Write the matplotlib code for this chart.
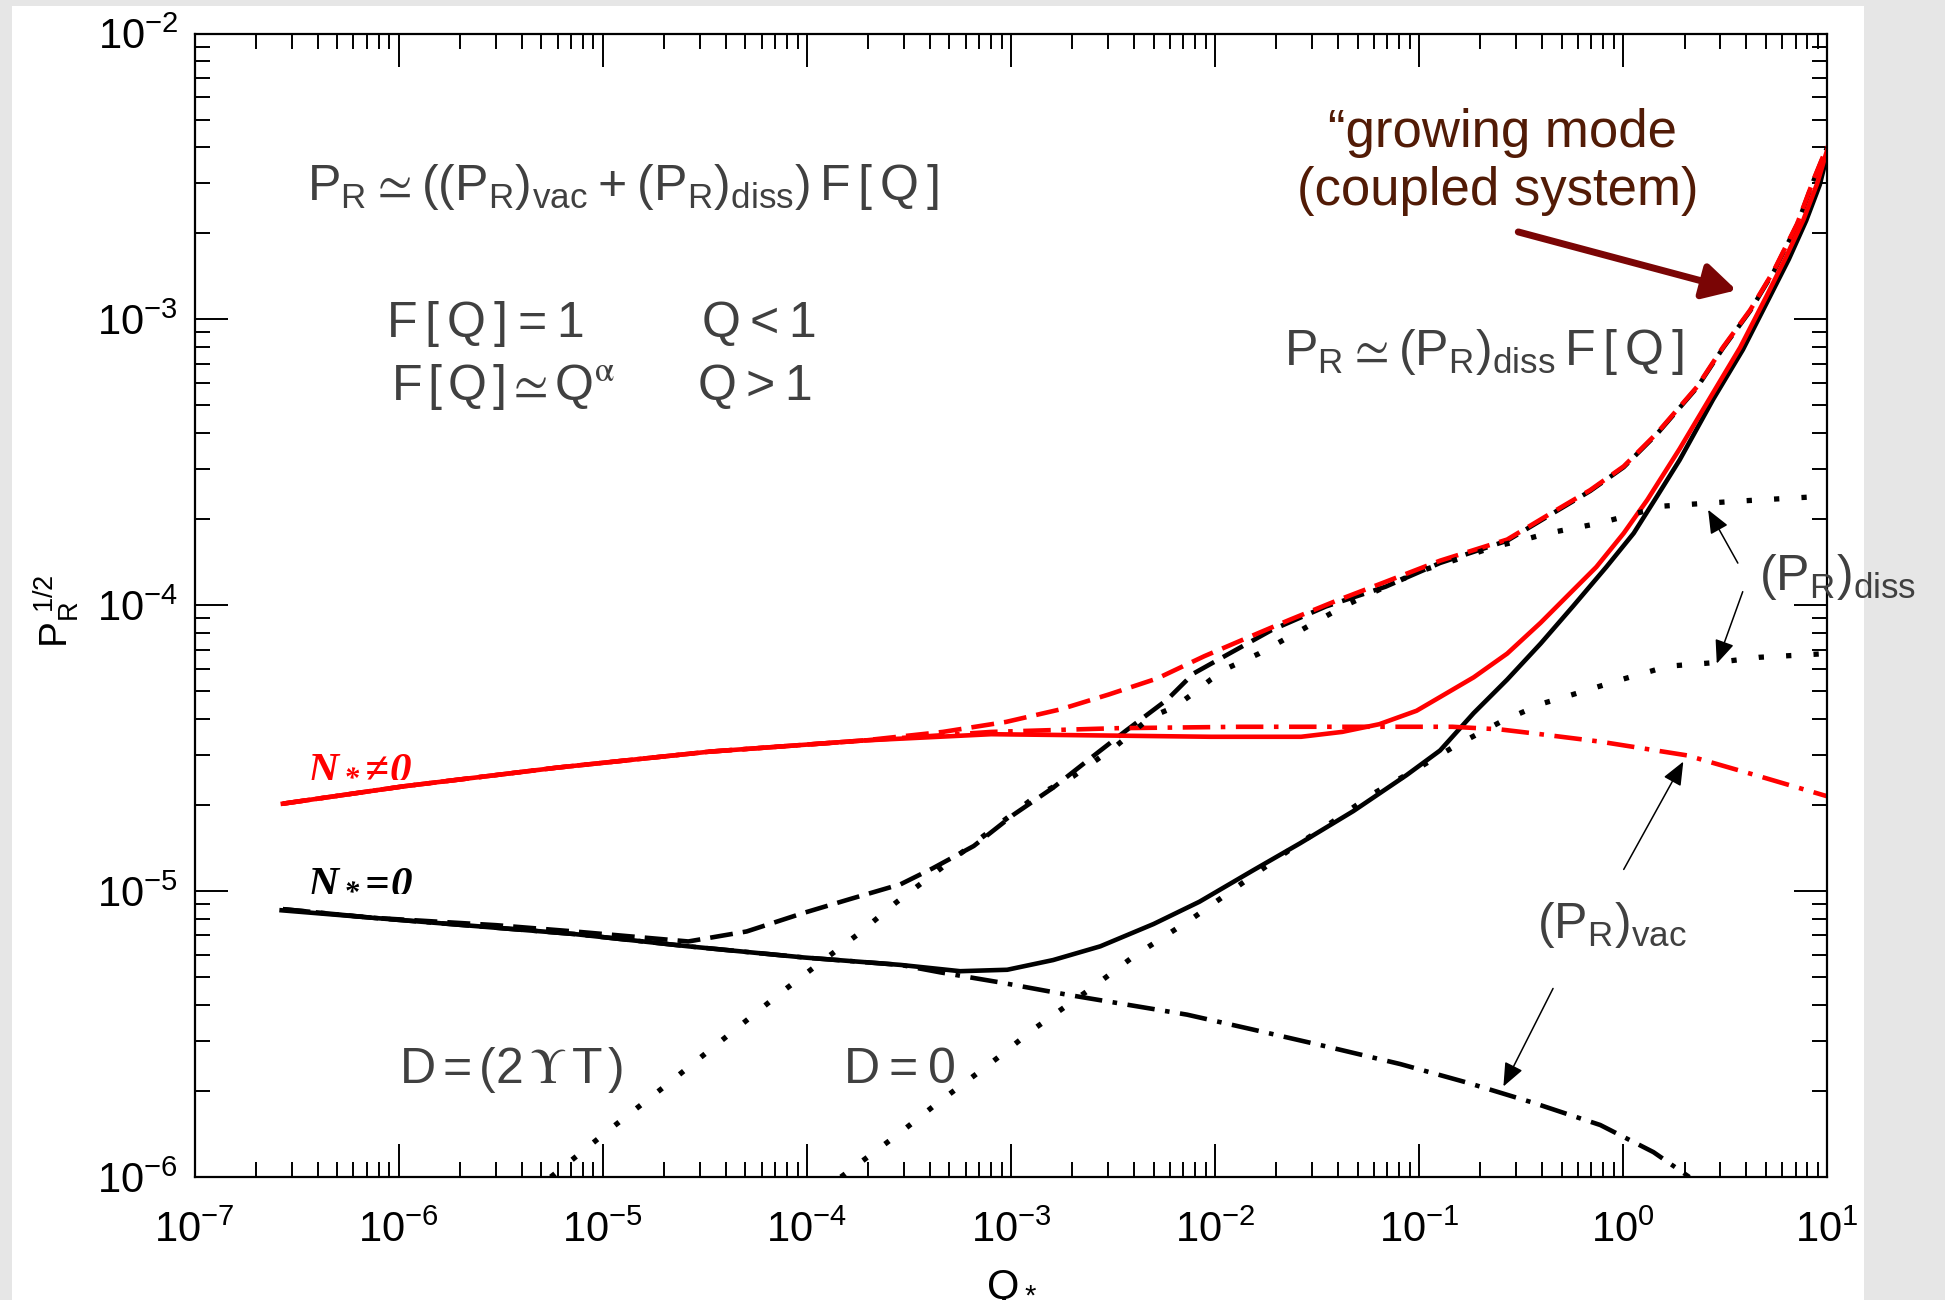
import numpy as np
import matplotlib
matplotlib.use('Agg')
import matplotlib.pyplot as plt
from matplotlib.patches import Rectangle
from matplotlib.ticker import LogLocator, NullFormatter

plt.rcParams['font.family'] = ['Liberation Sans', 'DejaVu Sans']
plt.rcParams['mathtext.default'] = 'regular'
plt.rcParams['axes.unicode_minus'] = False

# curves, stored as log10(Q_*) and log10(P_R^1/2)
red_solid_lq = [-6.568, -5.973, -5.225, -4.477, -3.723, -3.097, -2.483, -2.021, -1.578, -1.377,
                -1.195, -1.012, -0.897, -0.732, -0.568, -0.404, -0.246, -0.131, 0.003, 0.119,
                0.277, 0.429, 0.574, 0.702, 0.799, 0.884, 0.951, 1.0]
red_solid_lp = [-4.694, -4.633, -4.568, -4.512, -4.473, -4.451, -4.456, -4.460, -4.460, -4.443,
                -4.416, -4.369, -4.321, -4.252, -4.169, -4.061, -3.948, -3.866, -3.748, -3.631,
                -3.453, -3.271, -3.098, -2.920, -2.781, -2.651, -2.525, -2.408]

red_dash_lq = [-6.568, -5.973, -5.225, -4.477, -3.723, -3.334, -3.024, -2.757, -2.520, -2.283,
               -2.052, -1.839, -1.638, -1.401, -1.164, -0.897, -0.568, -0.325, -0.161, 0.003,
               0.167, 0.362, 0.489, 0.623, 0.739, 0.854, 0.933, 1.0]
red_dash_lp = [-4.694, -4.633, -4.568, -4.512, -4.473, -4.443, -4.408, -4.364, -4.312, -4.256,
               -4.178, -4.113, -4.052, -3.983, -3.918, -3.844, -3.770, -3.666, -3.597, -3.514,
               -3.397, -3.236, -3.098, -2.967, -2.829, -2.664, -2.512, -2.395]

red_dashdot_lq = [-6.568, -5.973, -5.225, -4.477, -3.723, -3.097, -2.483, -1.875, -1.419, -0.836,
                  -0.605, -0.404, -0.112, 0.313, 0.672, 1.0]
red_dashdot_lp = [-4.694, -4.633, -4.568, -4.512, -4.473, -4.443, -4.430, -4.425, -4.425, -4.425,
                  -4.434, -4.451, -4.477, -4.525, -4.599, -4.668]

blk_solid_lq = [-6.574, -6.131, -5.523, -5.140, -4.581, -4.015, -3.541, -3.249, -3.018, -2.793,
                -2.562, -2.301, -2.076, -1.815, -1.584, -1.322, -1.061, -0.897, -0.732, -0.568,
                -0.404, -0.246, -0.082, 0.052, 0.167, 0.277, 0.441, 0.587, 0.714, 0.812, 0.897,
                0.964, 1.0]
blk_solid_lp = [-5.067, -5.093, -5.128, -5.150, -5.193, -5.232, -5.258, -5.280, -5.275, -5.241,
                -5.193, -5.115, -5.037, -4.928, -4.833, -4.720, -4.594, -4.508, -4.377, -4.260,
                -4.134, -4.004, -3.866, -3.748, -3.618, -3.492, -3.280, -3.106, -2.928, -2.790,
                -2.655, -2.529, -2.425]

blk_dash_lq = [-6.568, -6.131, -5.523, -5.140, -4.581, -4.295, -4.015, -3.790, -3.541, -3.383,
               -3.182, -2.988, -2.793, -2.599, -2.435, -2.234, -2.106, -1.930, -1.723, -1.456,
               -1.164, -0.897, -0.568, -0.325, -0.161, 0.003, 0.167, 0.362, 0.489, 0.623,
               0.739, 0.854, 0.933, 1.0]
blk_dash_lp = [-5.063, -5.093, -5.119, -5.141, -5.176, -5.141, -5.076, -5.028, -4.976, -4.920,
               -4.842, -4.733, -4.638, -4.529, -4.438, -4.330, -4.239, -4.169, -4.087, -4.004,
               -3.935, -3.852, -3.774, -3.670, -3.600, -3.517, -3.400, -3.239, -3.101, -2.970,
               -2.832, -2.667, -2.515, -2.398]

blk_dashdot_lq = [-6.568, -6.131, -5.523, -5.140, -4.581, -4.015, -3.541, -3.347, -3.055, -2.726,
                  -2.465, -2.137, -1.815, -1.450, -1.091, -0.763, -0.441, -0.112, 0.149, 0.325]
blk_dashdot_lp = [-5.063, -5.093, -5.128, -5.150, -5.193, -5.232, -5.258, -5.284, -5.319, -5.362,
                  -5.393, -5.432, -5.484, -5.544, -5.605, -5.670, -5.740, -5.818, -5.913, -6.0]

# dotted approximations: D=(2YT) (upper) and D=0 (lower)
dot_hi_lq = [-5.255, -4.976, -4.690, -4.410, -4.125, -3.942, -3.748, -3.565, -2.878, -2.696,
             -2.489, -2.313, -2.198, -2.106, -2.021, -1.930, -1.784, -1.578, -1.371, -1.164,
             -0.988, -0.812, -0.635, -0.483, -0.368, -0.125, -0.027, 0.198, 0.556, 1.0]
dot_hi_lp = [-6.0, -5.839, -5.679, -5.518, -5.354, -5.254, -5.150, -5.041, -4.668, -4.599,
             -4.495, -4.390, -4.356, -4.308, -4.260, -4.217, -4.169, -4.087, -4.004, -3.935,
             -3.879, -3.839, -3.796, -3.770, -3.748, -3.714, -3.696, -3.653, -3.636, -3.618]

dot_lo_lq = [-3.833, -3.541, -3.365, -3.170, -3.067, -2.891, -2.775, -2.599, -2.398, -2.106,
             -1.815, -1.614, -1.419, -1.225, -1.012, -0.818, -0.587, -0.392, -0.246, -0.009,
             0.222, 0.459, 0.666, 1.0]
dot_lo_lp = [-6.0, -5.844, -5.744, -5.640, -5.584, -5.484, -5.425, -5.336, -5.228, -5.093,
             -4.946, -4.846, -4.755, -4.659, -4.573, -4.490, -4.403, -4.343, -4.312, -4.260,
             -4.213, -4.200, -4.182, -4.169]


def pw(a):
    return 10.0 ** np.array(a)


fig = plt.figure(figsize=(19.45, 13.0), dpi=100, facecolor='#e6e6e6')
fig.patches.append(Rectangle((0.0062, 0.0), 0.952, 0.9954, transform=fig.transFigure,
                             facecolor='white', edgecolor='none', zorder=-10))
ax = fig.add_axes([0.1001, 0.0946, 0.8393, 0.8796])
ax.set_zorder(2)
ax.set_facecolor('white')
ax.set_xscale('log')
ax.set_yscale('log')

lw = 3.3
dash = (0, (5, 2.2))
dashdot = (0, (6, 2.3, 1, 2.3))
dotted = (0, (1, 4.2))

ax.plot(pw(blk_dash_lq), pw(blk_dash_lp), color='k', lw=lw, ls=dash)
ax.plot(pw(blk_solid_lq), pw(blk_solid_lp), color='k', lw=lw)
ax.plot(pw(blk_dashdot_lq), pw(blk_dashdot_lp), color='k', lw=lw, ls=dashdot)
ax.plot(pw(red_dash_lq), pw(red_dash_lp), color='#ff0000', lw=lw, ls=dash)
ax.plot(pw(red_dashdot_lq), pw(red_dashdot_lp), color='#ff0000', lw=lw, ls=dashdot)
ax.plot(pw(red_solid_lq), pw(red_solid_lp), color='#ff0000', lw=lw)
ax.plot(pw(dot_hi_lq), pw(dot_hi_lp), color='k', lw=3.8, ls=dotted)
ax.plot(pw(dot_lo_lq), pw(dot_lo_lp), color='k', lw=3.8, ls=dotted)

ax.set_xlim(1e-7, 1e1)
ax.set_ylim(1e-6, 1e-2)
for axis in (ax.xaxis, ax.yaxis):
    axis.set_major_locator(LogLocator(base=10, numticks=15))
    axis.set_minor_locator(LogLocator(base=10, subs=np.arange(2, 10), numticks=15))
    axis.set_minor_formatter(NullFormatter())
ax.tick_params(which='both', direction='in', top=True, right=True, width=1.4, labelsize=30)
ax.tick_params(which='major', length=24)
ax.tick_params(which='minor', length=11)
ax.tick_params(axis='x', which='major', pad=24)
ax.tick_params(axis='y', which='major', pad=12)
for s in ax.spines.values():
    s.set_linewidth(1.6)

gray = '#404040'
tx = dict(transform=ax.transAxes, color=gray, fontsize=36, va='baseline')
ax.text(0.069, 0.8547, r'$P_R\simeq((P_R)_{vac}+(P_R)_{diss})\,F\,[\,Q\,]$', **tx)
ax.text(0.117, 0.7348, r'$F\,[\,Q\,]=1$', **tx)
ax.text(0.310, 0.7348, r'$Q<1$', **tx)
ax.text(0.120, 0.6795, r'$F\,[\,Q\,]\simeq Q^{\mathrm{\alpha}}$', math_fontfamily='stix', **tx)
ax.text(0.308, 0.6795, r'$Q>1$', **tx)
ax.text(0.667, 0.710, r'$P_R\simeq(P_R)_{diss}\,F\,[\,Q\,]$', **tx)
ax.text(0.958, 0.513, r'$(P_R)_{diss}$', clip_on=False, **tx)
ax.text(0.822, 0.209, r'$(P_R)_{vac}$', **tx)
ax.text(0.125, 0.082, r'$D=(2\,\mathrm{\Upsilon}\,T\,)$', math_fontfamily='stix', **tx)
ax.text(0.397, 0.082, r'$D=0$', **tx)

nt = dict(transform=ax.transAxes, fontsize=31, va='baseline', family='Liberation Serif',
          style='italic', weight='bold', math_fontfamily='stix')
ax.text(0.069, 0.350, r'$N_*\!\neq\!0$', color='#ff0000', **nt)
ax.text(0.069, 0.2505, r'$N_*\!=\!0$', color='k', **nt)

brown = '#521b06'
ax.text(0.8009, 0.9008, '\u201cgrowing mode', transform=ax.transAxes, color=brown,
        fontsize=38, ha='center', va='baseline')
ax.text(0.798, 0.850, '(coupled system)', transform=ax.transAxes, color=brown,
        fontsize=38, ha='center', va='baseline')
ax.annotate('', xy=(0.9445, 0.7755), xytext=(0.8108, 0.8265), xycoords='axes fraction',
            arrowprops=dict(arrowstyle='-|>,head_length=0.55,head_width=0.3', color='#7a0505',
                            lw=5, mutation_scale=36, shrinkA=0, shrinkB=0))

thin = dict(arrowstyle='-|>,head_length=0.6,head_width=0.25', color='k', lw=1.1,
            mutation_scale=24, shrinkA=0, shrinkB=0)
for tail, tip in [((0.9453, 0.5369), (0.9271, 0.5835)),
                  ((0.9483, 0.5119), (0.9324, 0.4490)),
                  ((0.8754, 0.2690), (0.9119, 0.3633)),
                  ((0.8321, 0.1649), (0.8017, 0.0792))]:
    ax.annotate('', xy=tip, xytext=tail, xycoords='axes fraction', arrowprops=thin)

fig.text(0.029, 0.53, r'$P_R^{\ 1/2}$', rotation=90, fontsize=28, ha='center', va='center')
fig.text(0.52, 0.0246, r'$Q_*$', fontsize=30, ha='center', va='top')

fig.savefig('out.png', dpi=100, facecolor=fig.get_facecolor())
